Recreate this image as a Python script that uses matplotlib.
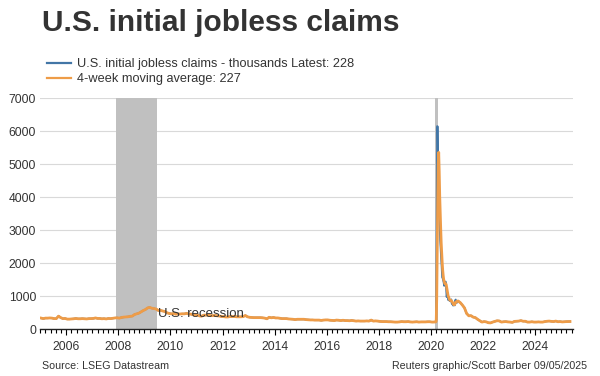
import numpy as np
import pandas as pd
import matplotlib
matplotlib.use("Agg")
import matplotlib.pyplot as plt
from matplotlib.ticker import MultipleLocator
from matplotlib.lines import Line2D

plt.rcParams['font.family'] = ['Liberation Sans', 'DejaVu Sans']

# Monthly averages, Jan 2005 - Feb 2020 (thousands)
claims_2005_2020 = [
    330, 315, 330, 330, 335, 330, 315, 315, 390, 345, 315, 320,   # 2005
    300, 300, 305, 310, 320, 310, 310, 315, 310, 305, 315, 315,   # 2006
    320, 335, 320, 320, 310, 315, 305, 320, 315, 325, 335, 340,   # 2007
    330, 350, 360, 365, 370, 385, 390, 440, 460, 480, 520, 560,   # 2008
    590, 640, 655, 630, 620, 605, 560, 565, 545, 530, 490, 470,   # 2009
    460, 470, 450, 455, 455, 460, 460, 475, 455, 450, 430, 425,   # 2010
    420, 395, 390, 420, 420, 420, 405, 405, 410, 400, 395, 380,   # 2011
    375, 365, 365, 380, 375, 380, 370, 370, 370, 375, 410, 370,   # 2012
    355, 350, 345, 345, 345, 345, 340, 330, 310, 355, 340, 350,   # 2013
    335, 335, 325, 315, 315, 315, 305, 300, 295, 285, 295, 295,   # 2014
    295, 295, 285, 280, 275, 275, 270, 270, 270, 260, 270, 275,   # 2015
    275, 265, 260, 255, 270, 265, 255, 265, 255, 255, 250, 260,   # 2016
    250, 240, 245, 240, 240, 240, 245, 240, 270, 240, 245, 240,   # 2017
    230, 225, 225, 225, 220, 220, 215, 210, 210, 215, 225, 220,   # 2018
    220, 225, 215, 210, 215, 220, 210, 215, 215, 215, 220, 220,   # 2019
    210, 210,                                                     # 2020
]

# Weekly, 29 Feb 2020 - 26 Dec 2020
weekly_claims = [
    217, 211, 282, 2920, 6150, 6137, 4869, 4267, 3867, 3176, 2687, 2446,
    2123, 1897, 1566, 1540, 1482, 1413, 1310, 1337, 1422, 1435, 1191, 971,
    1104, 1011, 881, 893, 866, 873, 849, 845, 898, 787, 751, 757,
    711, 748, 787, 716, 862, 892, 806, 790,
]
weekly_ma = [
    213, 214, 230, 908, 2391, 3872, 5019, 5356, 4785, 4045, 3499, 3044,
    2608, 2288, 2008, 1782, 1621, 1500, 1436, 1385, 1370, 1376, 1346, 1255,
    1175, 1069, 992, 972, 913, 878, 870, 858, 866, 845, 820, 798,
    751, 741, 751, 740, 778, 814, 819, 837,
]

# Monthly averages, Jan 2021 - Apr 2025
claims_2021_2025 = [
    850, 800, 730, 640, 470, 400, 405, 360, 345, 295, 250, 210,   # 2021
    225, 215, 190, 185, 210, 230, 250, 245, 210, 220, 225, 215,   # 2022
    210, 200, 230, 235, 240, 255, 235, 235, 210, 210, 220, 210,   # 2023
    210, 215, 210, 210, 225, 235, 240, 230, 225, 240, 220, 225,   # 2024
    215, 220, 225, 225,                                           # 2025
]
latest_claims = 228
latest_ma = 227

recessions = [("2007-12-01", "2009-06-30"), ("2020-02-20", "2020-04-10")]


def dec_year(d):
    d = pd.DatetimeIndex(d)
    return d.year + (d.dayofyear - 1) / 365.25


d1 = pd.date_range("2005-01-01", periods=len(claims_2005_2020), freq="MS") + pd.Timedelta(days=14)
d2 = pd.date_range("2020-02-29", periods=len(weekly_claims), freq="7D")
d3 = pd.date_range("2021-01-01", periods=len(claims_2021_2025), freq="MS") + pd.Timedelta(days=14)
d4 = pd.DatetimeIndex(["2025-05-03"])

x = np.concatenate([dec_year(d1), dec_year(d2), dec_year(d3), dec_year(d4)])
y_claims = np.concatenate([claims_2005_2020, weekly_claims, claims_2021_2025, [latest_claims]])
y_ma = np.concatenate([claims_2005_2020, weekly_ma, claims_2021_2025, [latest_ma]])

blue = "#4276a6"
orange = "#ee9c48"
txt = "#333333"

fig = plt.figure(figsize=(6, 3.76), dpi=100)
ax = fig.add_axes([0.067, 0.125, 0.888, 0.614])

for start, end in recessions:
    ax.axvspan(dec_year([start])[0], dec_year([end])[0], color="#c0c0c0", lw=0, zorder=1)

ax.plot(x, y_claims, color=blue, lw=1.4, zorder=3)
ax.plot(x, y_ma, color=orange, lw=2.0, zorder=4)

ax.text(dec_year(["2009-07-15"])[0], 450, "U.S. recession", fontsize=9.5, color=txt,
        va="center", ha="left", zorder=5)

ax.set_xlim(2005.0, 2025.45)
ax.set_ylim(0, 7000)
ax.xaxis.set_major_locator(MultipleLocator(2))
ax.xaxis.set_minor_locator(MultipleLocator(0.2))
ax.yaxis.set_major_locator(MultipleLocator(1000))
ax.grid(axis="y", color="#d9d9d9", lw=0.8, zorder=0)
ax.set_axisbelow(True)
for s in ["top", "right", "left"]:
    ax.spines[s].set_visible(False)
ax.spines["bottom"].set_color("#222222")
ax.spines["bottom"].set_linewidth(1.0)
ax.tick_params(axis="y", length=0, labelsize=8.7, labelcolor=txt, pad=3)
ax.tick_params(axis="x", which="major", length=4, width=0.8, labelsize=8.7, labelcolor=txt, pad=5)
ax.tick_params(axis="x", which="minor", length=3, width=0.8)
ax.xaxis.set_major_formatter(plt.FuncFormatter(lambda v, p: f"{int(round(v))}"))

fig.text(0.07, 0.94, "U.S. initial jobless claims", fontsize=21.5, fontweight="bold",
         color=txt, va="center", ha="left")

handles = [Line2D([], [], color=blue, lw=1.6), Line2D([], [], color=orange, lw=1.6)]
fig.legend(handles, ["U.S. initial jobless claims - thousands Latest: 228",
                     "4-week moving average: 227"],
           loc="upper left", bbox_to_anchor=(0.078, 0.845), frameon=False,
           fontsize=9.2, handlelength=1.9, handletextpad=0.45, labelspacing=0.25,
           borderaxespad=0, borderpad=0, labelcolor=txt)

fig.text(0.07, 0.027, "Source: LSEG Datastream", fontsize=7.7, color=txt, va="center")
fig.text(0.978, 0.027, "Reuters graphic/Scott Barber 09/05/2025", fontsize=7.7, color=txt,
         va="center", ha="right")

fig.savefig("out.png", dpi=100)
